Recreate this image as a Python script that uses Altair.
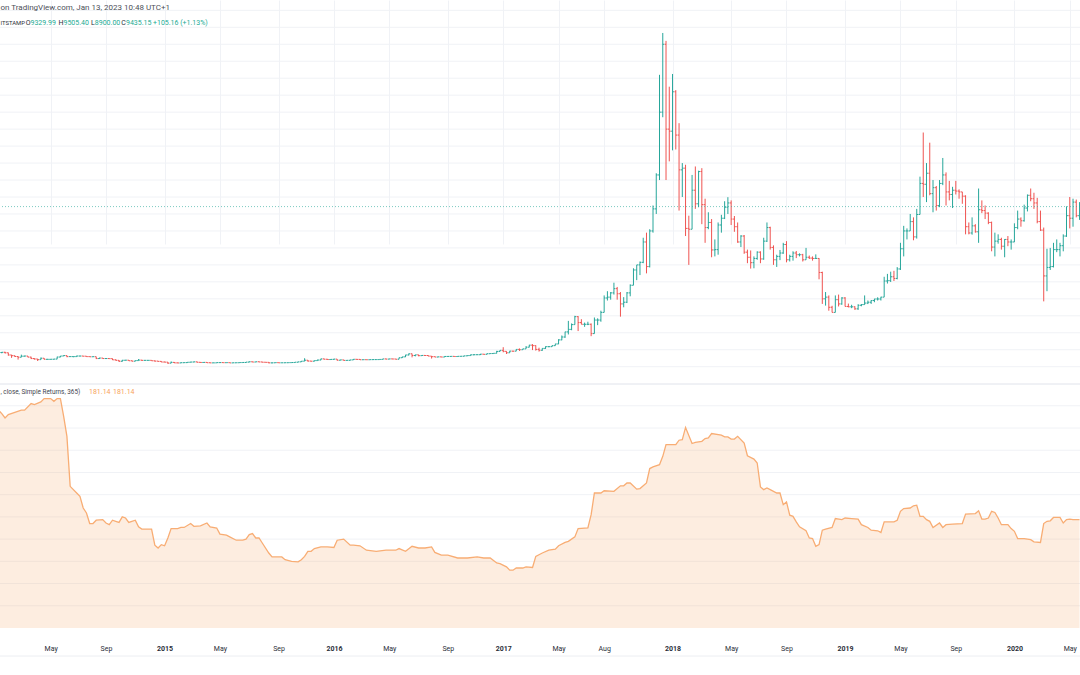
import altair as alt
import pandas as pd

# ---------------- data ----------------
FIRST_WEEK = "2014-01-20"      # Monday of the first weekly bar
FIRST_OPEN = 835

# weekly (high, low, close), BTCUSD Bitstamp
ohlc_2014 = [(870,790,850),(880,780,820),(830,650,690),(700,520,650),(660,580,600),(610,420,560),(710,560,620),(650,600,630),(630,560,565),(590,450,480),
             (500,420,455),(460,340,415),(540,410,500),(510,430,435),(460,420,435),(445,420,440),(455,430,450),(590,445,570),(630,560,630),(670,625,655),
             (660,560,595),(615,580,595),(605,560,595),(650,590,630),(640,610,630),(630,610,620),(625,590,595),(600,575,585),(595,575,590),(590,450,480),
             (530,460,510),(520,475,480),(490,470,480),(485,465,475),(480,395,405),(440,370,375),(395,280,320),(400,300,380),(400,370,385),(390,345,350),
             (365,320,325),(365,320,360),(450,360,390),(395,345,375),(385,360,375),(385,360,375),(375,345,350),(355,305,330),(335,310,315),(320,270,275)]
ohlc_2015 = [(300,265,270),(275,170,210),(310,205,255),(275,215,225),(245,212,222),(245,215,235),(250,230,240),(270,232,262),(290,260,274),(300,268,285),
             (296,255,260),(270,235,250),(262,238,255),(260,232,235),(240,215,225),(238,217,226),(240,219,240),(245,228,242),(246,233,236),(243,231,239),
             (240,220,224),(232,220,230),(238,225,234),(255,233,244),(255,240,250),(275,250,270),(315,265,290),(298,270,275),(295,272,290),(298,278,280),
             (285,258,264),(270,255,258),(262,200,228),(235,198,230),(240,225,239),(245,227,230),(237,225,231),(237,224,235),(241,235,239),(249,236,246),
             (268,244,265),(290,260,285),(330,280,326),(500,325,382),(390,300,333),(338,310,325),(365,315,360),(420,355,392),(470,385,460),(468,435,441),
             (460,416,422),(440,410,432)]
ohlc_2016 = [(465,425,447),(450,360,382),(410,375,402),(405,365,372),(380,365,376),(405,372,400),(445,398,438),(440,405,432),(438,398,410),(420,405,413),
             (420,405,410),(420,406,416),(424,410,419),(425,415,420),(432,418,430),(462,428,458),(470,440,448),(465,440,460),(465,445,455),(458,435,440),
             (535,438,528),(585,515,580),(700,570,690),(780,665,760),(770,550,660),(705,610,700),(705,615,650),(675,635,665),(680,645,660),(665,615,624),
             (630,480,590),(600,570,570),(590,565,580),(585,565,570),(610,565,605),(630,600,607),(612,600,610),(612,592,600),(615,595,612),(620,605,617),
             (645,612,640),(660,625,655),(720,650,700),(740,680,705),(740,700,705),(755,690,740),(745,720,730),(775,725,765),(780,760,775),(795,770,790),
             (935,788,900),(975,890,965)]
ohlc_2017 = [(1150,850,905),(910,750,820),(935,815,920),(930,880,918),(1030,915,1020),(1075,930,1000),(1055,995,1050),(1210,1050,1150),(1290,1140,1270),(1330,980,1240),
             (1260,950,1020),(1120,890,970),(1090,940,1080),(1200,1050,1180),(1215,1150,1180),(1250,1175,1240),(1350,1240,1340),(1620,1330,1580),(1840,1560,1750),(2060,1700,2050),
             (2700,1900,2200),(2550,2150,2480),(3000,2480,2950),(2980,2100,2600),(2800,2500,2500),(2600,2350,2500),(2650,2450,2500),(2550,1800,1950),(2900,1950,2750),(2850,2450,2750),
             (3300,2650,3200),(4200,3200,4050),(4450,3900,4100),(4400,3950,4350),(4950,4250,4600),(4700,3950,4300),(4400,2950,3700),(4100,3500,3800),(4400,3750,4350),(4850,4150,4800),
             (5800,4800,5700),(6000,5100,6000),(6200,5400,6150),(7600,6100,7350),(7900,5500,5900),(8100,5850,8000),(9500,7900,9300),(11400,9000,11300),(17200,11000,15000),(19666,14700,19000),
             (19200,11000,14000),(16500,12100,13880)]
ohlc_2018 = [(17250,12750,16200),(16300,12800,13650),(14350,9200,11600),(12000,10000,11700),(11900,7700,8150),(8900,6000,8100),(11300,8100,10400),(11800,9300,9600),(11550,9400,11500),(11700,8400,9550),
             (9900,7300,8200),(9100,8100,8500),(8700,6450,6880),(7500,6500,6900),(8500,6600,8350),(8950,7900,8750),(9750,8700,9400),(9990,9000,9650),(9800,8350,8700),(8880,7950,8250),
             (8500,7300,7350),(7750,7050,7700),(7760,6650,6750),(6900,6100,6450),(6850,5780,6130),(6500,5800,6380),(6800,6300,6750),(6800,6100,6350),(7600,6300,7400),(8500,7350,8200),
             (8250,6900,7030),(7150,6000,6300),(6600,5880,6500),(6880,6280,6700),(7300,6650,7200),(7400,6150,6300),(6600,6200,6500),(6800,6250,6700),(6820,6400,6600),(6680,6500,6600),
             (6650,6200,6300),(7000,6300,6450),(6550,6350,6400),(6500,6250,6380),(6620,6350,6380),(6400,5150,5550),(5600,3700,4000),(4400,3600,4100),(4200,3300,3500),(3590,3200,3200),
             (4200,3200,3950),(4250,3550,3700),(4100,3650,4050)]
ohlc_2019 = [(4100,3550,3550),(3720,3500,3530),(3650,3450,3530),(3560,3350,3410),(3680,3350,3620),(3690,3560,3660),(4200,3650,3750),(3900,3690,3800),(3920,3700,3900),(4000,3800,3990),
             (4090,3900,3990),(4120,3900,4100),(5300,4100,5050),(5470,4900,5070),(5600,4990,5300),(5650,5050,5200),(5870,5150,5760),(7300,5700,6950),(8300,6500,8000),(8150,7500,8000),
             (9000,8000,8550),(8800,7450,7650),(9300,7550,8970),(11200,8970,10800),(13800,10000,10750),(12000,9700,11400),(13200,10100,10200),(11000,9100,10550),(10650,9200,9500),(11000,9400,10800),
             (12300,10700,11300),(11450,9500,10300),(10950,9800,10150),(10600,9350,10400),(10950,10150,10350),(10450,9900,10300),(10300,9600,10050),(10100,7800,8250),(8500,7800,7880),(8800,7780,8300),
             (8400,7900,7950),(10500,7300,9250),(9800,9050,9200),(9500,8700,9050),(9100,8400,8500),(8550,6800,7050),(7900,6500,7400),(7800,7250,7500),(7600,6900,7100),(7520,6450,7500),
             (7700,7100,7350),(7500,6900,7350)]
ohlc_2020 = [(8450,7350,8200),(9200,8100,8700),(8800,8250,8600),(9550,8550,9350),(10150,9150,10100),(10500,9750,9900),(10250,9300,9650),(9950,8450,8550),(9200,8000,8050),(8200,3850,5350),
             (6950,4450,5850),(7000,5700,5900),(7300,5850,6900),(7500,6750,6900),(7300,6500,7130),(7800,6800,7700),(9450,7650,8900),(10000,8150,8750),(9900,8250,9700),(9850,8800,8900),
             (9700,8650,9450)]

# Historical volatility (close, simple returns, 365): (week index from FIRST_WEEK, value)
vol_points = [(-1,392),(0,386),(1,378),(2,384),(4,388),(6,392),(7,392),(9,404),(10,402),(12,407),(13,413),(15,413),(16,408),(17,413),(18,413),
              (19,381),(20,345),(21,255),(23,243),(24,237),(25,216),(26,207),(27,188),(28,188),(29,194),(31,195),(32,189),(33,186),(34,194),
              (35,192),(36,190),(37,200),(38,198),(39,190),(41,194),(42,182),(43,178),(46,178),(47,149),(48,144),(49,150),(50,148),(51,162),
              (52,179),(54,179),(55,181),(56,181),(58,188),(59,183),(61,184),(63,189),(64,182),(66,180),(67,169),(69,167),(70,164),(72,158),
              (74,158),(75,160),(76,168),(77,170),(78,162),(79,162),(80,153),(82,135),(83,128),(86,128),(87,123),(89,120),(91,119),(92,123),
              (93,129),(94,138),(95,138),(96,143),(98,146),(100,146),(102,145),(103,158),(105,160),(107,149),(108,149),(110,148),(112,140),
              (115,138),(118,140),(121,140),(122,143),(124,138),(126,147),(128,144),(130,144),(132,146),(133,136),(135,131),(137,131),(140,126),
              (143,126),(146,128),(148,126),(150,126),(152,117),(153,116),(155,110),(156,104),(157,104),(158,108),(160,108),(161,110),(163,109),
              (164,129),(166,135),(168,140),(170,142),(171,148),(173,154),(174,156),(176,164),(177,179),(180,180),(181,204),(182,243),(184,243),
              (185,247),(188,246),(190,256),(191,256),(192,261),(193,261),(195,250),(196,251),(198,261),(199,287),(200,290),(202,294),(203,309),
              (204,330),(207,330),(208,338),(209,339),(210,361),(212,332),(213,334),(215,336),(216,341),(217,342),(218,350),(221,347),(222,344),
              (223,344),(224,340),(225,340),(226,345),(228,333),(229,310),(231,304),(232,297),(233,254),(234,249),(235,252),(236,249),(238,243),
              (239,243),(240,222),(241,227),(242,203),(243,201),(244,191),(245,182),(247,175),(248,162),(249,161),(250,147),(251,150),(252,176),
              (253,178),(255,181),(256,197),(258,195),(259,198),(261,197),(263,196),(264,186),(266,181),(267,176),(269,175),(270,172),(271,191),
              (274,191),(275,194),(276,210),(277,215),(279,216),(280,220),(281,221),(282,201),(283,201),(284,195),(285,192),(286,181),(288,189),
              (289,181),(290,186),(292,187),(295,188),(296,205),(299,206),(300,211),(301,196),(302,196),(303,198),(304,210),(305,208),(306,198),
              (307,186),(309,186),(310,179),(311,174),(312,161),(314,161),(316,159),(317,155),(319,154),(320,188),(321,192),(322,193),(323,199),
              (325,199),(326,189),(327,195),(328,196),(329,195),(331,195)]

# time-axis labels (first weekly bar of each labelled period)
tick_dates = ["2014-01-06","2014-05-05","2014-09-01","2015-01-05","2015-05-04","2015-09-07","2016-01-04",
              "2016-05-02","2016-09-05","2017-01-02","2017-05-01","2017-08-07","2018-01-01","2018-05-07",
              "2018-09-03","2019-01-07","2019-05-06","2019-09-02","2020-01-06","2020-05-04"]

# legend texts (as visible in the cropped screenshot)
header_line1 = "on TradingView.com, Jan 13, 2023 10:48 UTC+1"
header_symbol = "ITSTAMP"
header_keys = ["O", "H", "L", "C"]
header_vals = ["9329.99", "9505.40", "8900.00", "9435.15"]
header_change = "+105.16 (+1.13%)"
crosshair_price = 9435.15
hv_title = ", close, Simple Returns, 365)"
hv_vals = ["181.14", "181.14"]

# ---------------- build tables ----------------
rows = ohlc_2014 + ohlc_2015 + ohlc_2016 + ohlc_2017 + ohlc_2018 + ohlc_2019 + ohlc_2020
highs = [r[0] for r in rows]
lows = [r[1] for r in rows]
closes = [r[2] for r in rows]
opens = [FIRST_OPEN] + closes[:-1]
dates = pd.date_range(FIRST_WEEK, periods=len(rows), freq="7D")
df = pd.DataFrame({"date": dates.strftime("%Y-%m-%d"), "open": opens, "high": highs,
                   "low": lows, "close": closes})
df["dir"] = ["up" if c >= o else "down" for o, c in zip(opens, closes)]

t0 = pd.Timestamp(FIRST_WEEK)
vdf = pd.DataFrame({
    "date": [(t0 + pd.Timedelta(days=7 * w)).strftime("%Y-%m-%d") for w, _ in vol_points],
    "hv": [v for _, v in vol_points]})

# ---------------- styling ----------------
GREEN = "#26a69a"
RED = "#ef5350"
GRID = "#f0f2f6"
HV = "#f8ad74"
FONT = "Roboto"


def dt(s, hours=0):
    y, m, d = (int(p) for p in s.split("-"))
    return alt.DateTime(year=y, month=m, date=d, hours=hours, utc=True)


x_scale = alt.Scale(type="utc", domain=[dt("2014-01-16", 3), dt("2020-05-26")])
x_axis = alt.Axis(
    values=[dt(s) for s in tick_dates],
    labelExpr="utcmonth(datum.value) == 0 ? utcFormat(datum.value, '%Y') : utcFormat(datum.value, '%b')",
    labelFontWeight={"condition": {"test": "utcmonth(datum.value) == 0", "value": "bold"}, "value": "normal"},
    grid=True, gridColor=GRID, gridWidth=1, ticks=False, tickSize=0, domain=False,
    labelFont=FONT, labelFontSize=7, labelColor="#2a2e39", labelBaseline="middle",
    labelPadding=20, labelFlush=False, labelOverlap=False, title=None)
X = alt.X("date:T", scale=x_scale, axis=x_axis)

top_scale = alt.Scale(domain=[-1019, 21609], range=[384, 0], nice=False, zero=False)
bot_scale = alt.Scale(domain=[0, 439.2], range=[628, 384], nice=False, zero=False)
color = alt.Color("dir:N", scale=alt.Scale(domain=["up", "down"], range=[GREEN, RED]), legend=None)

grid_top = alt.Chart(pd.DataFrame({"v": list(range(0, 22000, 1000))})).mark_rule(
    color=GRID, strokeWidth=1).encode(y=alt.Y("v:Q", scale=top_scale, axis=None))
grid_bot = alt.Chart(pd.DataFrame({"v": list(range(40, 440, 40))})).mark_rule(
    color=GRID, strokeWidth=1).encode(y=alt.Y("v:Q", scale=bot_scale, axis=None))

one = pd.DataFrame({"k": [0]})
separator = alt.Chart(one).mark_rule(color="#e0e3eb", strokeWidth=1).encode(
    x=alt.value(0), x2=alt.value(1080), y=alt.value(384))
axis_line = alt.Chart(one).mark_rule(color="#eceef2", strokeWidth=1).encode(
    x=alt.value(0), x2=alt.value(1080), y=alt.value(656))

area = alt.Chart(vdf).mark_area(color=HV, opacity=0.22, clip=True).encode(
    x=X, y=alt.Y("hv:Q", scale=bot_scale, axis=None))
hv_line = alt.Chart(vdf).mark_line(color=HV, strokeWidth=1.3, clip=True).encode(
    x=X, y=alt.Y("hv:Q", scale=bot_scale, axis=None))

base = alt.Chart(df)
hl = base.mark_rule(strokeWidth=1, clip=True).encode(
    x=X, y=alt.Y("low:Q", scale=top_scale, axis=None), y2="high:Q", color=color)
op = base.mark_rule(strokeWidth=1, xOffset=-1.4, clip=True).encode(
    x=X, x2="date:T", y=alt.Y("open:Q", scale=top_scale, axis=None), color=color)
cl = base.mark_rule(strokeWidth=1, x2Offset=1.4, clip=True).encode(
    x=X, x2="date:T", y=alt.Y("close:Q", scale=top_scale, axis=None), color=color)

cross = alt.Chart(pd.DataFrame({"p": [crosshair_price]})).mark_rule(
    color=GREEN, strokeWidth=1, strokeDash=[1, 2], opacity=0.6).encode(
    y=alt.Y("p:Q", scale=top_scale, axis=None))


def label(txt, x, y, col, align="left", size=7.0, weight="normal"):
    return alt.Chart(pd.DataFrame({"t": [txt]})).mark_text(
        align=align, baseline="middle", font=FONT, fontSize=size, color=col,
        fontWeight=weight).encode(x=alt.value(x), y=alt.value(y), text="t:N")


texts = [label(header_line1, 0.5, 7.5, "#4c4f58", size=8.0),
         label(header_symbol, 0.5, 22.5, "#2a2e39", size=5.9)]
for key, val, kx, vx in zip(header_keys, header_vals, [25.8, 58.5, 91.0, 121.2], [30.5, 63.5, 94.8, 126.0]):
    texts.append(label(key, kx, 22.5, "#2a2e39"))
    texts.append(label(val, vx, 22.5, "#22ab94"))
texts.append(label(header_change, 153, 22.5, "#22ab94"))
texts.append(label(hv_title, 0.5, 392, "#434651", size=6.4))
texts.append(label(hv_vals[0], 89, 392, "#f7a35c"))
texts.append(label(hv_vals[1], 113, 392, "#f7a35c"))

chart = alt.layer(grid_top, grid_bot, separator, axis_line, area, hv_line, hl, op, cl, cross, *texts).resolve_scale(
    y="independent").properties(
    width=1080, height=628,
    padding={"left": 0, "top": 0, "right": 0, "bottom": 47},
    autosize=alt.AutoSizeParams(type="none"),
    background="white").configure_view(stroke=None)

chart.save("out.html", embed_options={"renderer": "svg", "actions": False})
